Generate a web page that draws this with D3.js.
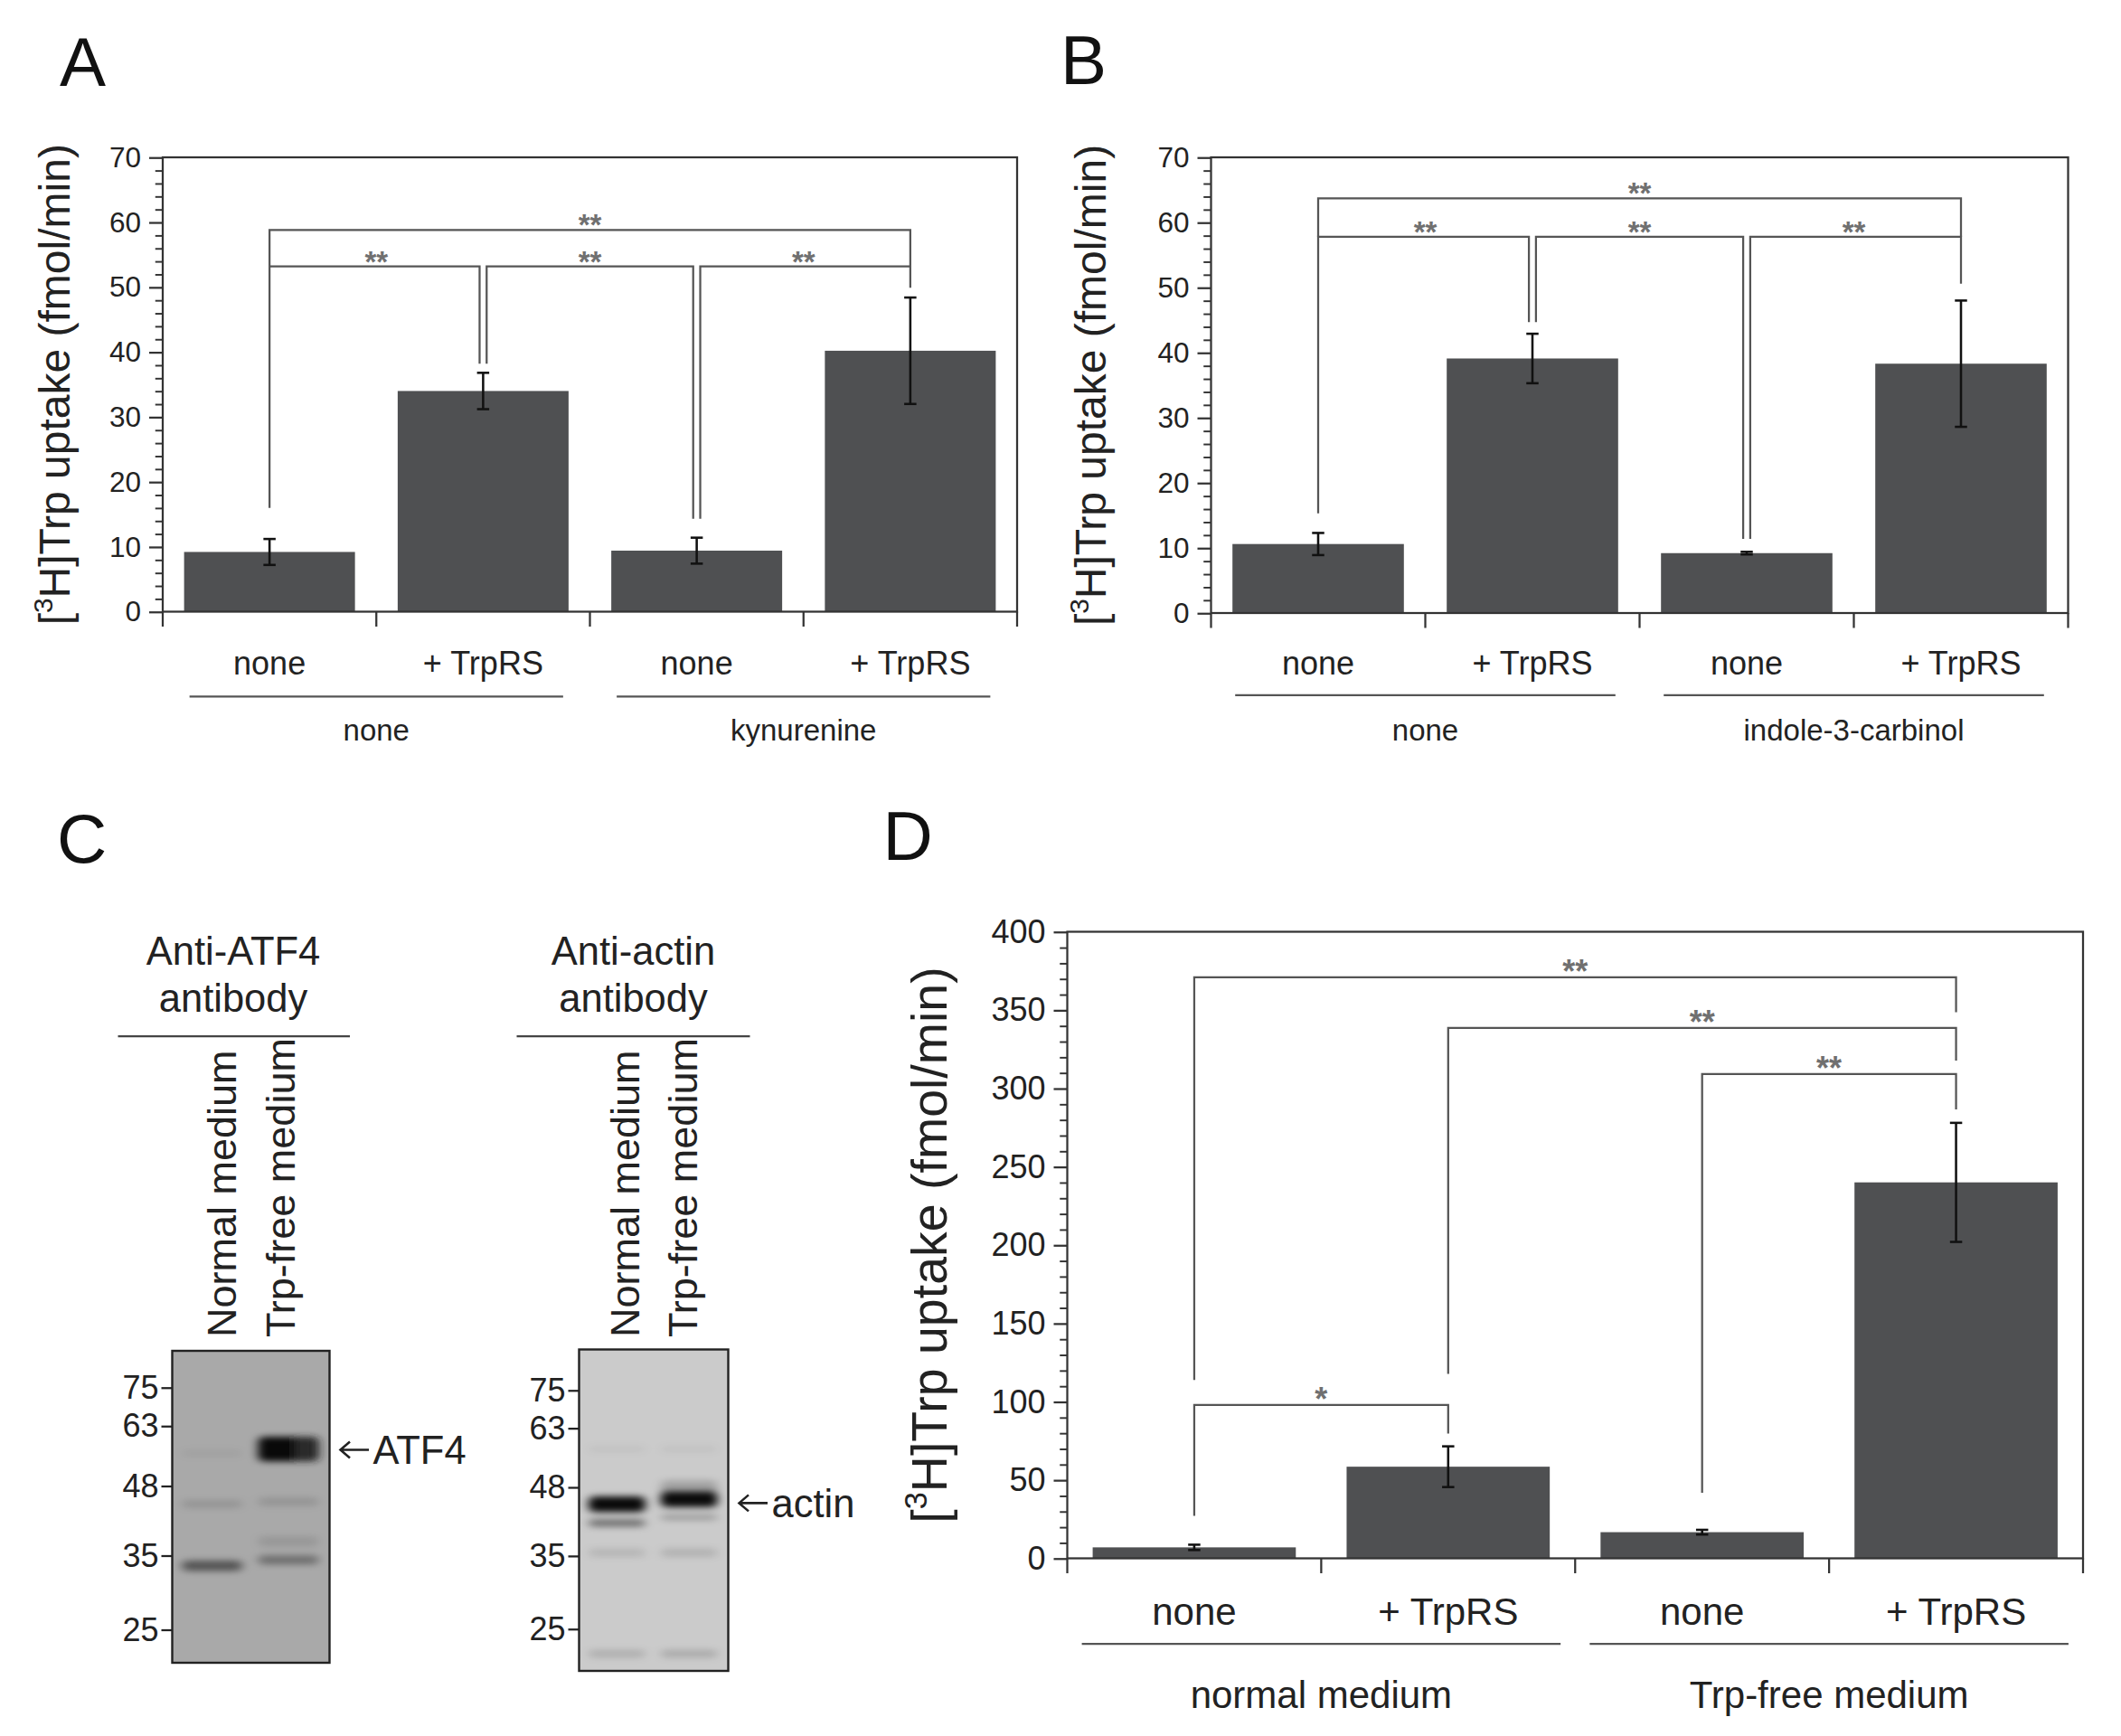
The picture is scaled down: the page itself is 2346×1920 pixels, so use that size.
<!DOCTYPE html>
<html>
<head>
<meta charset="utf-8">
<script src="https://cdn.jsdelivr.net/npm/d3@7"></script>
<style>
  body { margin: 0; background: #fff; }
  svg { display: block; }
</style>
</head>
<body>
<div id="figure"></div>
<script>
// ---- data ----
const barCategories = ["none", "+ TrpRS", "none", "+ TrpRS"];

const panelAMeans = [9.2, 34.0, 9.4, 40.2];
const panelAErrors = [2.0, 2.8, 2.0, 8.2];
const panelAGroups = ["none", "kynurenine"];
// [from, to, level, left leg end, right leg end, label]
const panelABrackets = [
  [0, 1, 53.2, 16.0, 38.2, "**"],
  [1, 2, 53.2, 38.2, 14.3, "**"],
  [2, 3, 53.2, 14.3, 49.9, "**"],
  [0, 3, 58.8, 53.2, 53.2, "**"]
];

const panelBMeans = [10.6, 39.1, 9.2, 38.3];
const panelBErrors = [1.7, 3.8, 0.2, 9.7];
const panelBGroups = ["none", "indole-3-carbinol"];
const panelBBrackets = [
  [0, 1, 57.8, 15.3, 44.7, "**"],
  [1, 2, 57.8, 44.7, 11.4, "**"],
  [2, 3, 57.8, 11.4, 50.6, "**"],
  [0, 3, 63.7, 57.8, 57.8, "**"]
];

const panelDMeans = [7.0, 58.5, 16.7, 240.0];
const panelDErrors = [1.7, 13.0, 1.5, 38.0];
const panelDGroups = ["normal medium", "Trp-free medium"];
const panelDBrackets = [
  [0, 3, 370.9, 113.8, 348.7, "**"],
  [1, 3, 338.6, 117.7, 317.7, "**"],
  [2, 3, 309.1, 41.9, 286.6, "**"],
  [0, 1, 97.9, 27.2, 79.6, "*"]
];

const yTicksAB = [0, 10, 20, 30, 40, 50, 60, 70];
const yTicksD = [0, 50, 100, 150, 200, 250, 300, 350, 400];
const minorStepAB = 2, minorStepD = 10;

// western blots (panel C)
const mwMarkers = [75, 63, 48, 35, 25];
const blotLanes = ["Normal medium", "Trp-free medium"];
// {lane, mwTop, mwBottom, level}
const atf4Bands = [
  { lane: 1, mwTop: 60, mwBottom: 53.6, level: 0.95 },
  { lane: 0, mwTop: 34.2, mwBottom: 32.6, level: 0.5 },
  { lane: 1, mwTop: 35.0, mwBottom: 33.6, level: 0.35 },
  { lane: 0, mwTop: 45.0, mwBottom: 43.4, level: 0.12 },
  { lane: 1, mwTop: 45.5, mwBottom: 43.8, level: 0.12 },
  { lane: 1, mwTop: 38.2, mwBottom: 36.4, level: 0.1 },
  { lane: 0, mwTop: 56.5, mwBottom: 54.8, level: 0.05 }
];
const actinBands = [
  { lane: 0, mwTop: 46.0, mwBottom: 42.8, level: 0.95 },
  { lane: 1, mwTop: 47.0, mwBottom: 43.8, level: 0.95 },
  { lane: 1, mwTop: 49.5, mwBottom: 46.5, level: 0.2 },
  { lane: 0, mwTop: 41.4, mwBottom: 40.0, level: 0.45 },
  { lane: 1, mwTop: 42.4, mwBottom: 41.2, level: 0.22 },
  { lane: 0, mwTop: 36.2, mwBottom: 34.8, level: 0.1 },
  { lane: 1, mwTop: 36.2, mwBottom: 34.8, level: 0.12 },
  { lane: 0, mwTop: 58.0, mwBottom: 56.4, level: 0.05 },
  { lane: 1, mwTop: 58.0, mwBottom: 56.4, level: 0.05 },
  { lane: 0, mwTop: 22.7, mwBottom: 21.9, level: 0.14 },
  { lane: 1, mwTop: 22.7, mwBottom: 21.9, level: 0.16 }
];

// ---- drawing ----
const FONT = "'Liberation Sans', Arial, Helvetica, sans-serif";
const W = 1564, H = 1280;

const svg = d3.select("#figure").append("svg")
  .attr("width", 2346)
  .attr("height", 1920)
  .attr("viewBox", `0 0 ${W} ${H}`)
  .style("font-family", FONT);

svg.append("rect").attr("width", W).attr("height", H).attr("fill", "#fff");

const defs = svg.append("defs");
defs.append("filter").attr("id", "blur2")
  .attr("x", "-30%").attr("y", "-300%").attr("width", "160%").attr("height", "700%")
  .append("feGaussianBlur").attr("stdDeviation", "3.5 2.4");
const grad = defs.append("linearGradient").attr("id", "atfGrad");
grad.append("stop").attr("offset", "0%").attr("stop-color", "#000");
grad.append("stop").attr("offset", "55%").attr("stop-color", "#050505");
grad.append("stop").attr("offset", "72%").attr("stop-color", "#2a2a2a");
grad.append("stop").attr("offset", "100%").attr("stop-color", "#151515");

function panelLetter(letter, x, y) {
  svg.append("text").attr("x", x).attr("y", y)
    .attr("font-size", 51).attr("fill", "#111").text(letter);
}

function yTitle(g, x, y, size) {
  const t = g.append("text")
    .attr("transform", `translate(${x},${y}) rotate(-90)`)
    .attr("text-anchor", "middle")
    .attr("dy", "0.35em")
    .attr("font-size", size)
    .attr("fill", "#222");
  t.append("tspan").text("[");
  t.append("tspan").attr("font-size", size * 0.62).attr("dy", -size * 0.4).text("3");
  t.append("tspan").attr("dy", size * 0.4).text("H]Trp uptake (fmol/min)");
}

function barPanel(o) {
  const g = svg.append("g");
  const idx = o.means.map((d, i) => i);

  const x = d3.scaleBand().domain(idx).range(o.xRange)
    .paddingInner(0.2).paddingOuter(0.1);
  const y = d3.scaleLinear().domain([0, o.ticks[o.ticks.length - 1]]).range(o.yRange);
  const cx = i => x(i) + x.bandwidth() / 2;

  // bars
  g.selectAll("rect.bar").data(o.means).enter().append("rect")
    .attr("class", "bar")
    .attr("x", (d, i) => x(i))
    .attr("width", x.bandwidth())
    .attr("y", d => y(d))
    .attr("height", d => y(0) - y(d))
    .attr("fill", "#4f5052");

  // error bars
  const eb = g.selectAll("g.err").data(o.means).enter().append("g").attr("class", "err")
    .attr("stroke", "#111").attr("stroke-width", 1.7);
  eb.append("line")
    .attr("x1", (d, i) => cx(i)).attr("x2", (d, i) => cx(i))
    .attr("y1", (d, i) => y(d - o.errors[i])).attr("y2", (d, i) => y(d + o.errors[i]));
  [-1, 1].forEach(s => {
    eb.append("line")
      .attr("x1", (d, i) => cx(i) - 4.5).attr("x2", (d, i) => cx(i) + 4.5)
      .attr("y1", (d, i) => y(d + s * o.errors[i])).attr("y2", (d, i) => y(d + s * o.errors[i]));
  });

  // significance brackets
  const gap = 2.6;
  o.brackets.forEach(b => {
    const [from, to, level, leftEnd, rightEnd, label] = b;
    let xa = cx(from), xb = cx(to);
    if (o.brackets.some(c => c !== b && c[2] === level && c[1] === from)) xa += gap;
    if (o.brackets.some(c => c !== b && c[2] === level && c[0] === to)) xb -= gap;
    g.append("path")
      .attr("d", `M${xa},${y(leftEnd)}V${y(level)}H${xb}V${y(rightEnd)}`)
      .attr("fill", "none").attr("stroke", "#555").attr("stroke-width", 1.5);
    g.append("text")
      .attr("x", (cx(from) + cx(to)) / 2).attr("y", y(level) + 4)
      .attr("text-anchor", "middle")
      .attr("font-size", o.starSize).attr("fill", "#707070")
      .attr("font-weight", "bold")
      .text(label);
  });

  // y axis with major and minor ticks
  const yAxis = g.append("g").attr("transform", `translate(${o.xRange[0]},0)`)
    .call(d3.axisLeft(y).tickValues(o.ticks).tickSize(10).tickPadding(6));
  yAxis.select(".domain").remove();
  yAxis.attr("font-family", FONT).attr("font-size", o.tickSize);
  yAxis.selectAll("line").attr("stroke", "#333").attr("stroke-width", 1.5);
  yAxis.selectAll("text").attr("fill", "#222");

  const ymax = o.ticks[o.ticks.length - 1];
  const minor = d3.range(0, ymax + 1e-6, o.minorStep).filter(v => !o.ticks.includes(v));
  const yMinor = g.append("g").attr("transform", `translate(${o.xRange[0]},0)`)
    .call(d3.axisLeft(y).tickValues(minor).tickSize(5.5).tickFormat(""));
  yMinor.select(".domain").remove();
  yMinor.selectAll("line").attr("stroke", "#333").attr("stroke-width", 1.3);

  // x ticks at category boundaries
  g.selectAll("line.xt").data(d3.range(idx.length + 1)).enter().append("line")
    .attr("class", "xt")
    .attr("x1", i => o.xRange[0] + i * x.step()).attr("x2", i => o.xRange[0] + i * x.step())
    .attr("y1", y(0)).attr("y2", y(0) + 11)
    .attr("stroke", "#333").attr("stroke-width", 1.5);

  // frame
  g.append("rect")
    .attr("x", o.xRange[0]).attr("y", o.yRange[1])
    .attr("width", o.xRange[1] - o.xRange[0]).attr("height", o.yRange[0] - o.yRange[1])
    .attr("fill", "none").attr("stroke", "#333").attr("stroke-width", 1.5);

  // category labels
  g.selectAll("text.cat").data(o.categories).enter().append("text")
    .attr("class", "cat")
    .attr("x", (d, i) => cx(i)).attr("y", o.catY)
    .attr("text-anchor", "middle").attr("font-size", o.catSize).attr("fill", "#222")
    .text(d => d);

  // group lines and labels
  o.groups.forEach((name, k) => {
    const x0 = x(2 * k) + o.groupInset, x1 = x(2 * k + 1) + x.bandwidth() - o.groupInset;
    g.append("line").attr("x1", x0).attr("x2", x1)
      .attr("y1", o.groupLineY).attr("y2", o.groupLineY)
      .attr("stroke", "#555").attr("stroke-width", 1.5);
    g.append("text").attr("x", (x0 + x1) / 2).attr("y", o.groupY)
      .attr("text-anchor", "middle").attr("font-size", o.groupSize).attr("fill", "#222")
      .text(name);
  });

  yTitle(g, o.titleX, (o.yRange[0] + o.yRange[1]) / 2, o.titleSize);
}

// Panel A
panelLetter("A", 44, 63);
barPanel({
  xRange: [120, 750], yRange: [451, 116],
  categories: barCategories, means: panelAMeans, errors: panelAErrors,
  groups: panelAGroups, brackets: panelABrackets,
  ticks: yTicksAB, minorStep: minorStepAB,
  tickSize: 21, starSize: 22, catSize: 24, catY: 497, groupLineY: 513.5,
  groupY: 546, groupSize: 22, groupInset: 4, titleX: 40, titleSize: 32
});

// Panel B
panelLetter("B", 782, 62);
barPanel({
  xRange: [893, 1525], yRange: [452, 116],
  categories: barCategories, means: panelBMeans, errors: panelBErrors,
  groups: panelBGroups, brackets: panelBBrackets,
  ticks: yTicksAB, minorStep: minorStepAB,
  tickSize: 21, starSize: 22, catSize: 24, catY: 497, groupLineY: 512.5,
  groupY: 546, groupSize: 22, groupInset: 2, titleX: 804, titleSize: 32
});

// Panel D
panelLetter("D", 651, 634);
barPanel({
  xRange: [787, 1536], yRange: [1149, 687],
  categories: barCategories, means: panelDMeans, errors: panelDErrors,
  groups: panelDGroups, brackets: panelDBrackets,
  ticks: yTicksD, minorStep: minorStepD,
  tickSize: 24, starSize: 24, catSize: 28, catY: 1198, groupLineY: 1212,
  groupY: 1259, groupSize: 28, groupInset: -8, titleX: 685, titleSize: 37
});

// Panel C: western blots
panelLetter("C", 42, 636);

function blot(o) {
  const g = svg.append("g");
  const [bx0, bx1] = o.boxX, [by0, by1] = o.boxY;
  const mid = (bx0 + bx1) / 2;
  const y = d3.scaleLog().domain([mwMarkers[0], mwMarkers[mwMarkers.length - 1]]).range(o.mwRange);
  const lane = d3.scaleBand().domain(d3.range(blotLanes.length))
    .range([bx0 + 4, bx1 - 5]).paddingInner(0.1);

  // header
  g.append("text").attr("x", o.headX).attr("y", 711).attr("text-anchor", "middle")
    .attr("font-size", 29).attr("fill", "#222").text(o.head[0]);
  g.append("text").attr("x", o.headX).attr("y", 746).attr("text-anchor", "middle")
    .attr("font-size", 29).attr("fill", "#222").text(o.head[1]);
  g.append("line").attr("x1", o.lineX[0]).attr("x2", o.lineX[1])
    .attr("y1", 764).attr("y2", 764).attr("stroke", "#444").attr("stroke-width", 1.5);

  // lane labels
  g.selectAll("text.lane").data(blotLanes).enter().append("text")
    .attr("class", "lane")
    .attr("transform", (d, i) => `translate(${mid + (i - 0.5) * 43},986) rotate(-90)`)
    .attr("dy", "0.35em").attr("font-size", 30).attr("fill", "#222")
    .text(d => d);

  // membrane
  g.append("rect").attr("x", bx0).attr("y", by0)
    .attr("width", bx1 - bx0).attr("height", by1 - by0)
    .attr("fill", o.bg);

  const bands = g.append("g").attr("filter", "url(#blur2)");
  bands.selectAll("rect").data(o.bands).enter().append("rect")
    .attr("x", d => lane(d.lane) + 3)
    .attr("width", lane.bandwidth() - 6)
    .attr("y", d => y(d.mwTop))
    .attr("height", d => y(d.mwBottom) - y(d.mwTop))
    .attr("rx", 4)
    .attr("fill", d => d.level > 0.9 && o.gradient ? "url(#atfGrad)" : "#000")
    .attr("opacity", d => d.level);

  g.append("rect").attr("x", bx0).attr("y", by0)
    .attr("width", bx1 - bx0).attr("height", by1 - by0)
    .attr("fill", "none").attr("stroke", "#222").attr("stroke-width", 1.6);

  // MW markers
  const ax = g.append("g").attr("transform", `translate(${bx0},0)`)
    .call(d3.axisLeft(y).tickValues(mwMarkers).tickFormat(d3.format("d")).tickSize(8).tickPadding(2));
  ax.select(".domain").remove();
  ax.attr("font-family", FONT).attr("font-size", 24);
  ax.selectAll("line").attr("stroke", "#222").attr("stroke-width", 1.5);
  ax.selectAll("text").attr("fill", "#222");

  // arrow + target label
  const ay = y(o.target[1]);
  g.append("path")
    .attr("d", `M${bx1 + 29},${ay}H${bx1 + 8}M${bx1 + 15},${ay - 6}L${bx1 + 8},${ay}L${bx1 + 15},${ay + 6}`)
    .attr("fill", "none").attr("stroke", "#222").attr("stroke-width", 1.7);
  g.append("text").attr("x", bx1 + 32).attr("y", ay).attr("dy", "0.35em")
    .attr("font-size", 29).attr("fill", "#222").text(o.target[0]);
}

blot({
  head: ["Anti-ATF4", "antibody"], headX: 172, lineX: [87, 258],
  boxX: [127, 243], boxY: [996, 1226], mwRange: [1023, 1201.5],
  bg: "#a9a9a9", bands: atf4Bands, gradient: true, target: ["ATF4", 56.5]
});
blot({
  head: ["Anti-actin", "antibody"], headX: 467, lineX: [381, 553],
  boxX: [427, 537], boxY: [995, 1232], mwRange: [1025, 1201],
  bg: "#cbcbcb", bands: actinBands, gradient: false, target: ["actin", 44.6]
});
</script>
</body>
</html>
